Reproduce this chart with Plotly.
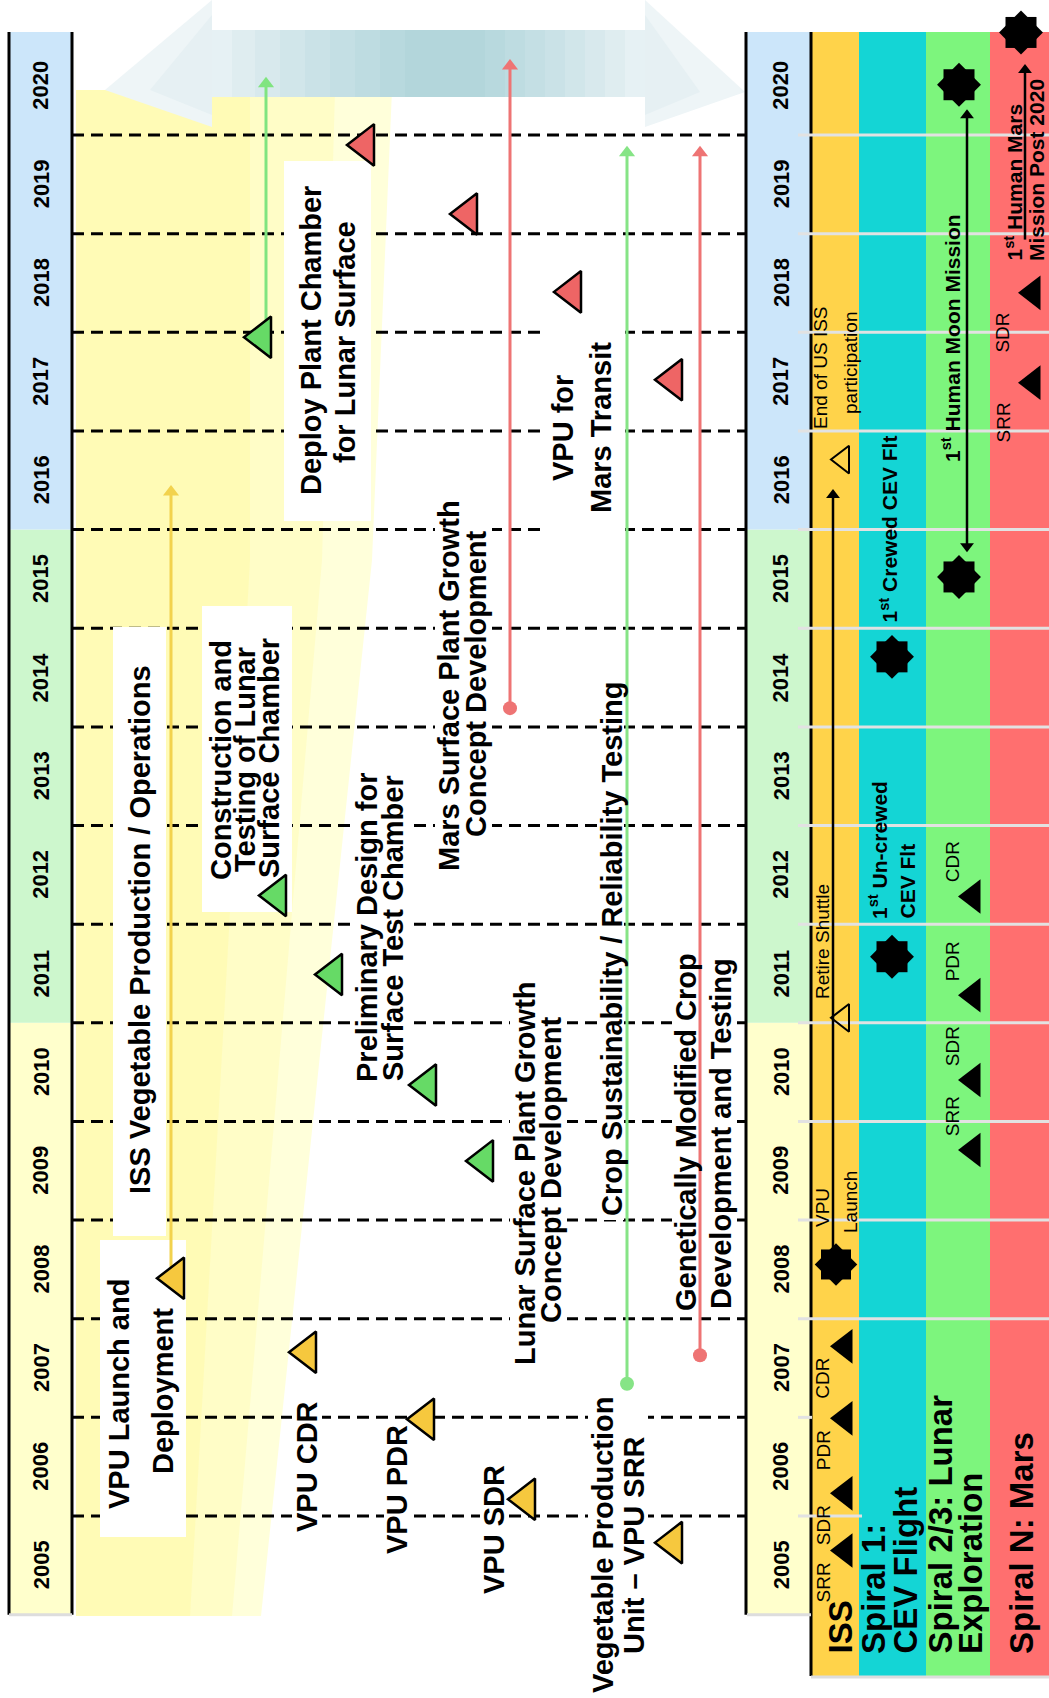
import plotly.graph_objects as go

# ---------------- data ----------------
YEARS = list(range(2005, 2021))
YEAR_LABELS = [str(y) for y in YEARS]
BOUNDARY_YEARS = list(range(2006, 2021))
PHASE_START = [2005, 2011, 2016]
PHASE_END = [2011, 2016, 2021]

VPU_MS_LABELS = ["VPU SRR", "VPU SDR", "VPU PDR", "VPU CDR", "VPU Launch"]
VPU_MS_YEARS = [2005.73, 2006.17, 2006.98, 2007.66, 2008.41]
LUNAR_MS_YEARS = [2009.60, 2010.37, 2011.49, 2012.29, 2017.95]
MARS_MS_YEARS = [2017.52, 2018.41, 2019.20, 2019.90]

ACT_LABELS = ["ISS Vegetable Production / Operations", "Deploy Plant Chamber",
              "Mars Surface Plant Growth", "Crop Sustainability / Reliability Testing",
              "Genetically Modified Crop"]
ACT_START = [2008.41, 2017.95, 2014.19, 2007.34, 2007.63]
ACT_END = [2016.43, 2020.57, 2020.75, 2019.87, 2019.87]

ISS_REVIEW_LABELS = ["SRR", "SDR", "PDR", "CDR"]
ISS_REVIEW_YEARS = [2005.65, 2006.23, 2006.99, 2007.72]
ISS_SPAN = [2008.55, 2016.40]
ISS_LAUNCH_YEAR = [2008.55]
ISS_EVENT_YEARS = [2011.05, 2016.71]
CEV_FLIGHT_YEARS = [2011.67, 2014.71]
LUNAR_REVIEW_LABELS = ["SRR", "SDR", "PDR", "CDR"]
LUNAR_REVIEW_YEARS = [2009.71, 2010.42, 2011.28, 2012.28]
MOON_STAR_YEARS = [2015.52, 2020.51]
MOON_SPAN = [2015.78, 2020.25]
MARS_REVIEW_LABELS = ["SRR", "SDR"]
MARS_REVIEW_YEARS = [2017.49, 2018.40]
MARS_SPAN = [2018.94, 2020.71]
MARS_STAR_YEAR = [2021.04]

# ---------------- layout helpers ----------------
W, H = 1049, 1698
def ty(px):
    return 2006 + (1516 - px) / 98.64

TOP_T = ty(32)
FONT = "Liberation Sans, Arial, Helvetica, sans-serif"
HDR_COL = ["#FFFFCC", "#CDF7CD", "#CCE6FA"]
YEL, GRN, RED = "#F6C83E", "#66DA66", "#EE6565"
ACT_COL = ["#F2D24E", "#80E480", "#EE7474", "#86E486", "#EE7474"]
ACT_X = [171, 266, 510, 627, 700]
ACT_DOT = [False, False, True, True, True]
VPU_X = [673, 526, 425, 307, 175]
LUNAR_X = [484, 427, 333, 277, 262]
MARS_X = [673, 572, 468, 365]
LANES = [(812, 859, "#FFD34A"), (859, 926, "#14D5D5"), (926, 990, "#7DF57D"), (990, 1049, "#FF6F6F")]

shapes = []
def rect(x0, x1, y0, y1, color, opacity=1):
    shapes.append(dict(type="rect", xref="x", yref="y", x0=x0, x1=x1, y0=y0, y1=y1,
                       fillcolor=color, opacity=opacity, line=dict(width=0), layer="below"))
def poly(pts, color, opacity=1):
    path = "M " + " L ".join(f"{x},{ty(p)}" for x, p in pts) + " Z"
    shapes.append(dict(type="path", xref="x", yref="y", path=path, fillcolor=color,
                       opacity=opacity, line=dict(width=0), layer="below"))
def vline(x, y0, y1, color="black", width=3, dash="solid"):
    shapes.append(dict(type="line", xref="x", yref="y", x0=x, x1=x, y0=y0, y1=y1,
                       line=dict(color=color, width=width, dash=dash), layer="below"))
def hline(x0, x1, y, color="black", width=2.5, dash="solid"):
    shapes.append(dict(type="line", xref="x", yref="y", x0=x0, x1=x1, y0=y, y1=y,
                       line=dict(color=color, width=width, dash=dash), layer="below"))

# yellow fading background
poly([(76, 90), (392, 90), (372, 560), (261, 1616), (76, 1616)], "#FFFFDA")
poly([(76, 90), (335, 90), (322, 560), (232, 1616), (76, 1616)], "#FFFCC2", 0.8)
poly([(76, 90), (250, 90), (250, 560), (190, 1616), (76, 1616)], "#FFF9A8", 0.55)
# big faded arrow at top
poly([(212, 0), (105, 90), (212, 127)], "#EEF5F7")
poly([(212, 15), (150, 90), (212, 115)], "#E6F0F3")
poly([(645, 0), (745, 92), (645, 127)], "#EEF5F7")
poly([(645, 15), (700, 92), (645, 115)], "#E6F0F3")
band = [(212, 645, "#E6F1F4"), (232, 625, "#DFEDF0"), (255, 605, "#D8E9ED"), (280, 585, "#D1E6EA"),
        (305, 565, "#CAE2E7"), (330, 545, "#C4DFE4"), (355, 525, "#BEDCE1"), (380, 505, "#B8D9DE"),
        (405, 485, "#B3D6DB")]
for x0, x1, c in band:
    rect(x0, x1, ty(97), ty(30), c)

# header bands
for s, e, c in zip(PHASE_START, PHASE_END, HDR_COL):
    y1 = TOP_T if e >= 2021 else e
    rect(9, 72, s, y1, c)
    rect(747, 811, s, y1, c)
# lanes
for x0, x1, c in LANES:
    rect(x0, x1, ty(1676), TOP_T, c)

# dashed year boundaries
for b in BOUNDARY_YEARS:
    hline(72, 745, b, dash="12px,7px", width=3)

# white boxes behind text blocks
for x0, x1, p0, p1 in [(100, 186, 1240, 1537), (113, 166, 627, 1236), (202, 292, 606, 912),
                       (284, 371, 161, 521), (540, 625, 310, 545), (292, 322, 1400, 1534),
                       (384, 412, 1425, 1555), (480, 508, 1465, 1596), (588, 648, 1395, 1698),
                       (352, 408, 772, 1085), (435, 492, 498, 873), (510, 567, 978, 1368),
                       (598, 624, 678, 1220), (672, 736, 950, 1314)]:
    rect(x0, x1, ty(p1), ty(p0), "white")

# frame lines
vline(9, 2005, TOP_T)
vline(72, 2005, TOP_T)
vline(746, 2005, TOP_T)
vline(811, ty(1676), TOP_T)
hline(9, 72, 2005, color="#DDDDDD", width=3)
hline(747, 811, 2005, color="#DDDDDD", width=3)
hline(811, 1049, ty(1677), color="#DDDDDD", width=3)
# light year grid in lanes
for b in BOUNDARY_YEARS:
    x1 = 1049
    if b == 2006:
        x1 = 862
    elif b == 2007:
        x1 = 812
    hline(798, x1, b, color="#E2E2E2", width=3)

fig = go.Figure()

def seg_trace(xs, ys, color, width=3):
    fig.add_trace(go.Scatter(x=xs, y=ys, mode="lines", line=dict(color=color, width=width),
                             hoverinfo="skip", showlegend=False))
def mk(xs, ys, symbol, size, color, lcolor="black", lwidth=2):
    fig.add_trace(go.Scatter(x=xs, y=ys, mode="markers",
                             marker=dict(symbol=symbol, size=size, color=color,
                                         line=dict(color=lcolor, width=lwidth)),
                             hoverinfo="skip", showlegend=False))
def star(xs, ys, size=31):
    mk(xs, ys, "square", size, "black", lwidth=0)
    mk(xs, ys, "diamond", size * 1.09, "black", lwidth=0)

# activity lines
for x, s, e, c, d in zip(ACT_X, ACT_START, ACT_END, ACT_COL, ACT_DOT):
    seg_trace([x, x], [s, e - 0.05], c)
    mk([x], [e - 0.05], "triangle-up", 14, c, lwidth=0)
    if d:
        mk([x], [s], "circle", 14, c, lwidth=0)

# milestone triangles
mk(VPU_X, VPU_MS_YEARS, "triangle-left", 36, YEL, lwidth=2.5)
mk(LUNAR_X, LUNAR_MS_YEARS, "triangle-left", 36, GRN, lwidth=2.5)
mk(MARS_X, MARS_MS_YEARS, "triangle-left", 36, RED, lwidth=2.5)

# ISS lane
seg_trace([833, 833], [ISS_SPAN[0], ISS_SPAN[1] - 0.05], "black", 2.5)
mk([833], [ISS_SPAN[1] - 0.05], "triangle-up", 12, "black", lwidth=0)
star([836] * len(ISS_LAUNCH_YEAR), ISS_LAUNCH_YEAR, 30)
mk([845] * 4, ISS_REVIEW_YEARS, "triangle-left", 30, "black", lwidth=0)
mk([843] * 2, ISS_EVENT_YEARS, "triangle-left", 24, "rgba(0,0,0,0)", lwidth=2)
# Spiral 1
star([892] * 2, CEV_FLIGHT_YEARS, 31)
# Spiral 2/3
mk([973] * 4, LUNAR_REVIEW_YEARS, "triangle-left", 30, "black", lwidth=0)
seg_trace([967, 967], [MOON_SPAN[0] + 0.05, MOON_SPAN[1] - 0.05], "black", 2.5)
mk([967], [MOON_SPAN[1] - 0.05], "triangle-up", 12, "black", lwidth=0)
mk([967], [MOON_SPAN[0] + 0.05], "triangle-down", 12, "black", lwidth=0)
star([959] * 2, MOON_STAR_YEARS, 31)
# Spiral N
mk([1033] * 2, MARS_REVIEW_YEARS, "triangle-left", 30, "black", lwidth=0)
seg_trace([1025, 1025], [MARS_SPAN[0], MARS_SPAN[1] - 0.05], "black", 2.5)
mk([1025], [MARS_SPAN[1] - 0.05], "triangle-up", 12, "black", lwidth=0)
star([1021], MARS_STAR_YEAR, 31)

# ---------------- text ----------------
ann = []
def txt(text, x, y, size, bold=True, anchor="middle"):
    ann.append(dict(x=x, y=y, xref="x", yref="y", text=text, textangle=-90, showarrow=False,
                    xanchor="center", yanchor=anchor,
                    font=dict(family=FONT, size=size, color="black",
                              weight="bold" if bold else "normal")))

for yv, lab in zip(YEARS, YEAR_LABELS):
    txt(lab, 41, yv + 0.5, 22)
    txt(lab, 781, yv + 0.5, 22)

MAIN_TEXT = [
    ("VPU Launch and", 119, 1394), ("Deployment", 163, 1391),
    ("ISS Vegetable Production / Operations", 140, 930),
    ("Construction and", 221, 760), ("Testing of Lunar", 245, 760), ("Surface Chamber", 269, 758),
    ("Preliminary Design for", 367, 928), ("Surface Test Chamber", 393, 928),
    ("Mars Surface Plant Growth", 449, 686), ("Concept Development", 476, 684),
    ("Lunar Surface Plant Growth", 525, 1173), ("Concept Development", 551, 1170),
    ("Crop Sustainability / Reliability Testing", 612, 949),
    ("Genetically Modified Crop", 686, 1132), ("Development and Testing", 721, 1134),
    ("Deploy Plant Chamber", 311, 341), ("for Lunar Surface", 345, 342),
    ("VPU for", 563, 428), ("Mars Transit", 601, 428),
    ("VPU CDR", 307, 1467), ("VPU PDR", 397, 1490), ("VPU SDR", 494, 1530),
    ("Vegetable Production", 603, 1545), ("Unit \u2013 VPU SRR", 634, 1545),
]
for t, x, p in MAIN_TEXT:
    txt(t, x, ty(p), 29)

# lane texts
txt("Retire Shuttle", 822, ty(942), 19, bold=False)
txt("VPU", 822, ty(1208), 19, bold=False)
txt("Launch", 850, ty(1202), 19, bold=False)
txt("End of US ISS", 820, ty(368), 19, bold=False)
txt("participation", 850, ty(363), 19, bold=False)
for lab, yv in zip(ISS_REVIEW_LABELS, ISS_REVIEW_YEARS):
    txt(lab, 823, yv - 0.1, 19, bold=False, anchor="top")
for lab, yv in zip(LUNAR_REVIEW_LABELS, LUNAR_REVIEW_YEARS):
    txt(lab, 952, yv + 0.12, 19, bold=False, anchor="bottom")
for lab, yv in zip(MARS_REVIEW_LABELS, MARS_REVIEW_YEARS):
    txt(lab, 1003, yv - 0.18, 19, bold=False, anchor="top")
txt("1<sup>st</sup> Un-crewed", 878, ty(921), 21, anchor="bottom")
txt("CEV Flt", 907, ty(921), 21, anchor="bottom")
txt("1<sup>st</sup> Crewed CEV Flt", 888, ty(625), 21, anchor="bottom")
txt("1<sup>st</sup> Human Moon Mission", 951, ty(464), 21, anchor="bottom")
txt("1<sup>st</sup> Human Mars", 1013, ty(263), 21, anchor="bottom")
txt("Mission Post 2020", 1036, ty(263), 21, anchor="bottom")

LANE_TITLES = [("ISS", 840), ("Spiral 1:", 873), ("CEV Flight", 905),
               ("Spiral 2/3: Lunar", 940), ("Exploration", 970), ("Spiral N: Mars", 1021)]
for t, x in LANE_TITLES:
    txt(t, x, ty(1656), 33, anchor="bottom")

fig.update_layout(
    width=W, height=H, margin=dict(l=0, r=0, t=0, b=0),
    paper_bgcolor="white", plot_bgcolor="white",
    xaxis=dict(range=[0, W], visible=False, fixedrange=True),
    yaxis=dict(range=[ty(H), ty(0)], visible=False, fixedrange=True),
    shapes=shapes, annotations=ann, showlegend=False,
)
fig.write_html("out.html")
